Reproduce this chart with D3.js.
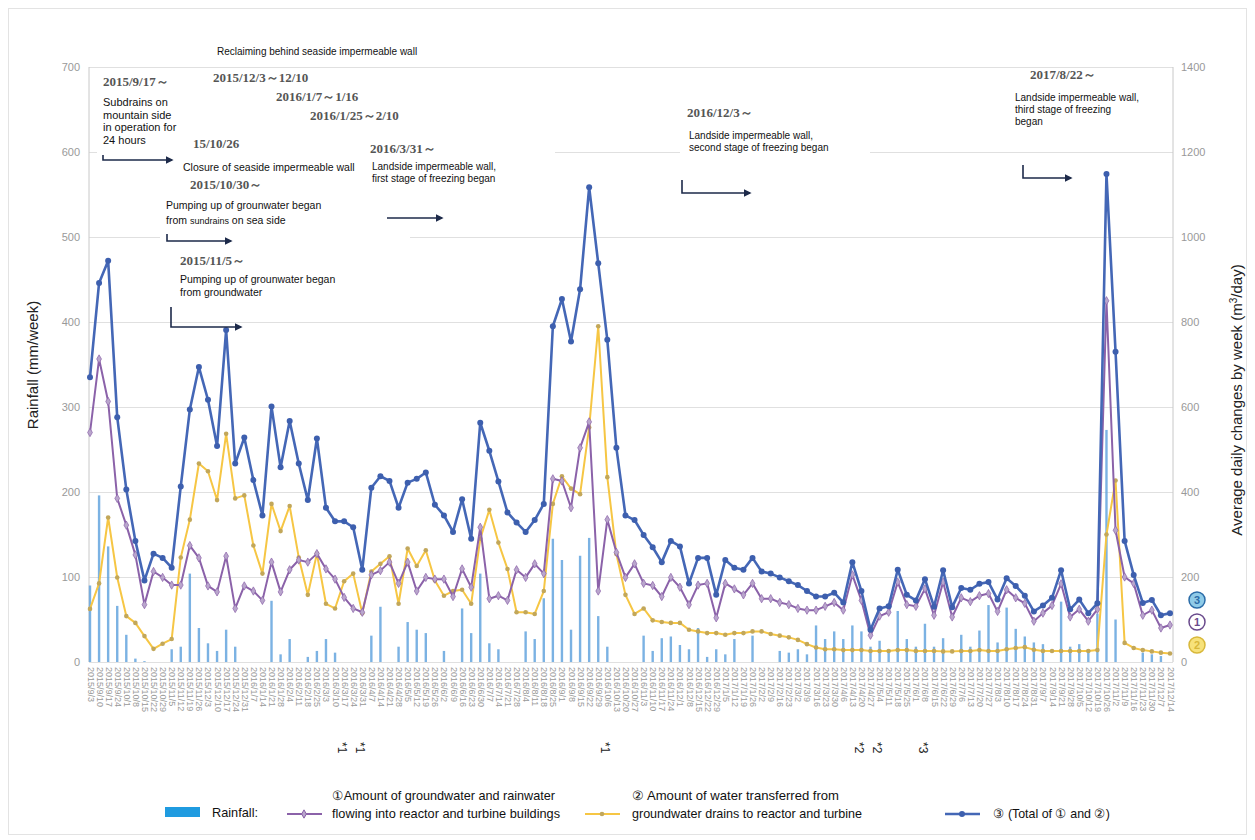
<!DOCTYPE html>
<html>
<head>
<meta charset="utf-8">
<script src="https://cdn.jsdelivr.net/npm/d3@7"></script>
<style>
  body { margin: 0; background: #fff; }
  svg { font-family: "Liberation Sans", Arial, sans-serif; }
</style>
</head>
<body>
<script>
// weekly dates (x categories)
var dates = [
 "2015/9/3","2015/9/10","2015/9/17","2015/9/24","2015/10/1","2015/10/8","2015/10/15","2015/10/22","2015/10/29","2015/11/5",
 "2015/11/12","2015/11/19","2015/11/26","2015/12/3","2015/12/10","2015/12/17","2015/12/24","2015/12/31",
 "2016/1/7","2016/1/14","2016/1/21","2016/1/28","2016/2/4","2016/2/11","2016/2/18","2016/2/25","2016/3/3","2016/3/10",
 "2016/3/17","2016/3/24","2016/3/31","2016/4/7","2016/4/14","2016/4/21","2016/4/28","2016/5/5","2016/5/12","2016/5/19",
 "2016/5/26","2016/6/2","2016/6/9","2016/6/16","2016/6/23","2016/6/30","2016/7/7","2016/7/14","2016/7/21","2016/7/28",
 "2016/8/4","2016/8/11","2016/8/18","2016/8/25","2016/9/1","2016/9/8","2016/9/15","2016/9/22","2016/9/29","2016/10/6",
 "2016/10/13","2016/10/20","2016/10/27","2016/11/3","2016/11/10","2016/11/17","2016/11/24","2016/12/1","2016/12/8",
 "2016/12/15","2016/12/22","2016/12/29",
 "2017/1/5","2017/1/12","2017/1/19","2017/1/26","2017/2/2","2017/2/9","2017/2/16","2017/2/23","2017/3/2","2017/3/9",
 "2017/3/16","2017/3/23","2017/3/30","2017/4/6","2017/4/13","2017/4/20","2017/4/27","2017/5/4","2017/5/11","2017/5/18",
 "2017/5/25","2017/6/1","2017/6/8","2017/6/15","2017/6/22","2017/6/29","2017/7/6","2017/7/13","2017/7/20","2017/7/27",
 "2017/8/3","2017/8/10","2017/8/17","2017/8/24","2017/8/31","2017/9/7","2017/9/14","2017/9/21","2017/9/28","2017/10/5",
 "2017/10/12","2017/10/19","2017/10/26","2017/11/2","2017/11/9","2017/11/16","2017/11/23","2017/11/30","2017/12/7","2017/12/14"
];

// rainfall, mm/week (left axis)
var rainfall = [
 90,196,136,66,32,4,1,0,0,15, 18,104,40,22,13,38,18,0,0,0,
 72,9,27,0,6,13,27,11,0,0, 0,31,65,0,18,47,38,34,0,13,
 0,63,34,104,22,15,0,0,36,27, 75,145,120,38,125,146,54,18,0,0,
 0,31,13,28,30,20,15,40,6,15, 9,27,0,31,0,0,13,11,15,9,
 43,27,36,27,43,36,18,25,15,60, 27,18,45,18,28,0,32,18,37,67,
 23,64,39,30,23,21,0,71,18,21, 11,57,273,50,0,0,11,9,7,0
];

// (1) groundwater + rainwater into buildings, m3/day (right axis)
var inflow = [
 540,713,613,385,322,252,135,213,199,181, 181,274,245,179,165,249,126,179,167,145,
 235,165,217,240,235,255,219,195,152,126, 117,205,215,235,185,235,167,199,195,195,
 154,219,176,317,149,156,145,217,199,231, 208,431,426,363,504,565,167,335,258,199,
 231,185,180,154,199,176,135,181,185,104, 185,172,158,185,149,149,140,135,126,122,
 122,131,140,122,205,145,63,108,117,188, 135,131,172,110,188,106,151,142,156,161,
 119,170,151,138,96,115,133,184,106,124, 96,124,850,310,200,185,110,122,80,87
];

// (2) transferred from groundwater drains, m3/day
var transfer = [
 125,185,340,199,108,92,61,31,43,54, 246,335,467,449,381,537,385,392,274,208,
 372,308,367,246,158,255,137,126,190,208, 115,213,231,249,137,267,226,263,192,156,
 167,170,137,290,358,281,219,117,117,113, 167,372,437,408,395,552,790,435,254,158,
 113,126,98,94,92,92,76,72,68,68, 64,68,68,72,72,66,62,58,52,42,
 34,30,30,28,28,28,26,26,26,28, 28,26,26,26,25,25,26,26,28,26,
 26,30,33,35,29,26,26,26,26,26, 26,28,300,427,45,33,28,25,22,20
];

// (3) total of (1) and (2), m3/day
var total = [
 670,892,944,576,406,285,192,255,245,222, 413,594,694,617,508,781,467,528,428,345,
 601,458,567,467,381,526,363,331,331,317, 217,410,437,426,363,422,431,446,370,345,
 306,383,290,563,497,425,352,328,306,334, 372,790,854,754,877,1117,938,758,504,345,
 334,299,270,235,285,272,185,245,245,158, 240,222,217,245,213,208,199,190,181,167,
 154,154,163,140,235,167,76,126,131,217, 158,145,195,130,216,129,174,170,184,188,
 147,197,179,156,119,133,151,216,124,147, 115,138,1148,730,285,205,139,146,110,115
];

var leftTicks = [0,100,200,300,400,500,600,700];
var rightTicks = [0,200,400,600,800,1000,1200,1400];

// footnote marks under the date labels
var footIdx = [28,30,57,85,87,92];
var footTxt = ["*1","*1","*1","*2","*2","*3"];

var W = 1255, H = 840;
var pL = 89, pR = 1173, pT = 67, pB = 662;

var svg = d3.select("body").append("svg").attr("width", W).attr("height", H);
svg.append("rect").attr("width", W).attr("height", H).attr("fill", "#fff");
svg.append("rect").attr("x", 8.5).attr("y", 8.5).attr("width", 1238).attr("height", 826)
   .attr("fill", "none").attr("stroke", "#e3e3e3");

var x = d3.scalePoint().domain(d3.range(dates.length)).range([90, 1170]);
var yL = d3.scaleLinear().domain([0, 700]).range([pB, pT]);
var yR = d3.scaleLinear().domain([0, 1400]).range([pB, pT]);

// gridlines + left axis
var gl = svg.append("g").attr("transform", "translate(" + pL + ",0)")
  .call(d3.axisLeft(yL).tickValues(leftTicks).tickSize(-(pR - pL)).tickPadding(9));
gl.select(".domain").remove();
gl.selectAll(".tick line").attr("stroke", "#e0e0e0");
gl.selectAll(".tick text").attr("fill", "#999").style("font-size", "11px");

var gr = svg.append("g").attr("transform", "translate(" + pR + ",0)")
  .call(d3.axisRight(yR).tickValues(rightTicks).tickFormat(d3.format("d")).tickSize(0).tickPadding(8));
gr.select(".domain").remove();
gr.selectAll(".tick text").attr("fill", "#999").style("font-size", "11px");

svg.append("line").attr("x1", pL).attr("x2", pL).attr("y1", pT).attr("y2", pB).attr("stroke", "#c8c8c8");
svg.append("line").attr("x1", pR).attr("x2", pR).attr("y1", pT).attr("y2", pB).attr("stroke", "#c8c8c8");

// x axis date labels
var gx = svg.append("g").attr("transform", "translate(0," + (pB + 5) + ")")
  .call(d3.axisBottom(x).tickSize(0).tickFormat(function (i) { return dates[i]; }));
gx.select(".domain").remove();
gx.selectAll(".tick text")
  .attr("transform", "rotate(90)").attr("x", 0).attr("y", 0).attr("dy", "0.33em")
  .attr("text-anchor", "start").attr("fill", "#999").style("font-size", "9px");

svg.selectAll(".foot").data(footIdx).enter().append("text")
  .attr("transform", function (d) { return "translate(" + (x(d) - 2) + ",742) rotate(90)"; })
  .attr("dy", "0.35em").style("font-size", "12px").attr("fill", "#222")
  .text(function (d, i) { return footTxt[i]; });

// white boxes behind annotations
var boxes = [[97,70,86,100],[205,68,215,58],[160,135,250,115],[170,252,160,50],[365,140,190,55],[680,105,190,55],[1005,68,150,66]];
svg.selectAll(".box").data(boxes).enter().append("rect")
  .attr("x", function (d) { return d[0]; }).attr("y", function (d) { return d[1]; })
  .attr("width", function (d) { return d[2]; }).attr("height", function (d) { return d[3]; })
  .attr("fill", "#fff");

// rainfall bars
svg.selectAll(".bar").data(rainfall).enter().append("rect")
  .attr("x", function (d, i) { return x(i) - 1.2; })
  .attr("width", 2.4)
  .attr("y", function (d) { return yL(d); })
  .attr("height", function (d) { return pB - yL(d); })
  .attr("fill", "#5a9fdc").attr("opacity", 0.8);

function series(vals, color, width) {
  var line = d3.line().x(function (d, i) { return x(i); }).y(function (d) { return yR(d); });
  svg.append("path").datum(vals).attr("d", line).attr("fill", "none")
     .attr("stroke", color).attr("stroke-width", width).attr("stroke-linejoin", "round");
}

series(transfer, "#f6c644", 2);
svg.selectAll(".mT").data(transfer).enter().append("circle")
  .attr("cx", function (d, i) { return x(i); }).attr("cy", function (d) { return yR(d); })
  .attr("r", 2.3).attr("fill", "#c2a75a");

series(inflow, "#8b62a9", 2);
svg.selectAll(".mI").data(inflow).enter().append("path")
  .attr("d", d3.symbol().type(d3.symbolDiamond).size(20))
  .attr("transform", function (d, i) { return "translate(" + x(i) + "," + yR(d) + ")"; })
  .attr("fill", "#b9a6cc").attr("stroke", "#8b62a9").attr("stroke-width", 0.7);

series(total, "#4467b6", 2.6);
svg.selectAll(".mS").data(total).enter().append("circle")
  .attr("cx", function (d, i) { return x(i); }).attr("cy", function (d) { return yR(d); })
  .attr("r", 3).attr("fill", "#3d5fae");

// axis titles
svg.append("text").attr("transform", "translate(38,365) rotate(-90)").attr("text-anchor", "middle")
  .style("font-size", "15px").attr("fill", "#222").text("Rainfall (mm/week)");
var rt = svg.append("text").attr("transform", "translate(1242,400) rotate(-90)").attr("text-anchor", "middle")
  .style("font-size", "15px").attr("fill", "#222");
rt.append("tspan").text("Average daily changes by week (m");
rt.append("tspan").attr("dy", -5).style("font-size", "10px").text("3");
rt.append("tspan").attr("dy", 5).text("/day)");

// circled markers on right axis
var icons = [["3", 600, "#8fcbe8", "#2b6ca8"], ["1", 622, "#fff", "#6a4a8c"], ["2", 645, "#f7e27a", "#d8b83a"]];
icons.forEach(function (c) {
  svg.append("circle").attr("cx", 1197).attr("cy", c[1]).attr("r", 8)
     .attr("fill", c[2]).attr("stroke", c[3]).attr("stroke-width", 1.5);
  svg.append("text").attr("x", 1197).attr("y", c[1]).attr("dy", "0.36em").attr("text-anchor", "middle")
     .style("font-size", "11px").style("font-weight", "bold").attr("fill", c[3]).text(c[0]);
});

// annotations
function note(tx, ty, lines, size, lh) {
  var t = svg.append("text").attr("x", tx).attr("y", ty).style("font-size", size + "px").attr("fill", "#111");
  lines.forEach(function (s, k) { t.append("tspan").attr("x", tx).attr("dy", k ? lh : 0).text(s); });
}
function dateNote(tx, ty, s) {
  svg.append("text").attr("x", tx).attr("y", ty).style("font-family", "'Liberation Serif', serif")
     .style("font-size", "13px").style("font-weight", "bold").attr("fill", "#555").text(s);
}
svg.append("defs").append("marker").attr("id", "ah").attr("viewBox", "0 0 10 10")
  .attr("refX", 8).attr("refY", 5).attr("markerWidth", 5).attr("markerHeight", 5).attr("orient", "auto")
  .append("path").attr("d", "M0,0L10,5L0,10z").attr("fill", "#1d2a4a");
function arrow(pts) {
  svg.append("path").attr("d", d3.line()(pts)).attr("fill", "none").attr("stroke", "#1d2a4a")
     .attr("stroke-width", 1.6).attr("marker-end", "url(#ah)");
}

note(217, 55, ["Reclaiming behind seaside impermeable wall"], 10, 12);
dateNote(103, 86, "2015/9/17～");
note(103, 106, ["Subdrains on", "mountain side", "in operation for", "24 hours"], 11, 12.5);
arrow([[103, 155], [103, 160], [172, 160]]);
dateNote(213, 82, "2015/12/3～12/10");
dateNote(276, 101, "2016/1/7～1/16");
dateNote(310, 120, "2016/1/25～2/10");
dateNote(193, 148, "15/10/26");
note(183, 171, ["Closure of seaside impermeable wall"], 10.5, 12);
dateNote(190, 189, "2015/10/30～");
note(166, 209, ["Pumping up of grounwater began"], 10.5, 12);
var sub = svg.append("text").attr("x", 166).attr("y", 224).style("font-size", "10.5px").attr("fill", "#111");
sub.append("tspan").text("from ");
sub.append("tspan").style("font-size", "9px").text("sundrains");
sub.append("tspan").text(" on sea side");
arrow([[167, 234], [167, 241], [231, 241]]);
dateNote(180, 265, "2015/11/5～");
note(180, 283, ["Pumping up of grounwater began", "from groundwater"], 10.5, 13);
arrow([[171, 307], [171, 327], [241, 327]]);
dateNote(370, 153, "2016/3/31～");
note(372, 170, ["Landside impermeable wall,", "first stage of freezing began"], 10, 12);
arrow([[387, 218], [442, 218]]);
dateNote(687, 117, "2016/12/3～");
note(689, 139, ["Landside impermeable wall,", "second stage of freezing began"], 10, 12);
arrow([[682, 180], [682, 193], [750, 193]]);
dateNote(1030, 79, "2017/8/22～");
note(1015, 101, ["Landside impermeable wall,", "third stage of freezing", "began"], 10, 12);
arrow([[1023, 165], [1023, 178], [1071, 178]]);

// legend
var lg = svg.append("g").style("font-size", "13px").attr("fill", "#111");
function ltext(tx, ty, s, len) {
  lg.append("text").attr("x", tx).attr("y", ty).attr("textLength", len)
    .attr("lengthAdjust", "spacingAndGlyphs").text(s);
}
lg.append("rect").attr("x", 165).attr("y", 807).attr("width", 35).attr("height", 10).attr("fill", "#1f9be0");
ltext(212, 817, "Rainfall:", 46);
lg.append("line").attr("x1", 287).attr("x2", 322).attr("y1", 814).attr("y2", 814).attr("stroke", "#8b62a9").attr("stroke-width", 2);
lg.append("path").attr("d", d3.symbol().type(d3.symbolDiamond).size(20)).attr("transform", "translate(304,814)")
  .attr("fill", "#b9a6cc").attr("stroke", "#8b62a9");
ltext(332, 800, "①Amount of groundwater and rainwater", 223);
ltext(332, 818, "flowing into reactor and turbine buildings", 228);
lg.append("line").attr("x1", 585).attr("x2", 620).attr("y1", 814).attr("y2", 814).attr("stroke", "#f6c644").attr("stroke-width", 2);
lg.append("circle").attr("cx", 602).attr("cy", 814).attr("r", 2.3).attr("fill", "#c2a75a");
ltext(632, 800, "② Amount of water transferred from", 207);
ltext(632, 818, "groundwater drains to reactor and turbine", 230);
lg.append("line").attr("x1", 945).attr("x2", 980).attr("y1", 814).attr("y2", 814).attr("stroke", "#4467b6").attr("stroke-width", 2.6);
lg.append("circle").attr("cx", 962).attr("cy", 814).attr("r", 3).attr("fill", "#3d5fae");
ltext(993, 818, "③ (Total of ① and ②)", 117);
</script>
</body>
</html>
